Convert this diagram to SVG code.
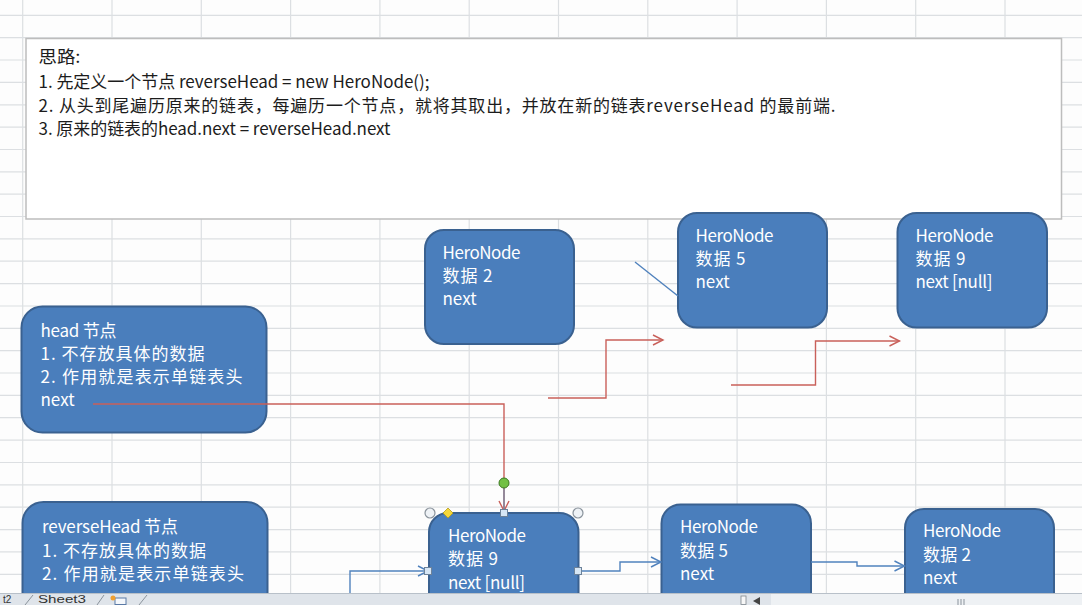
<svg xmlns="http://www.w3.org/2000/svg" width="1082" height="605" viewBox="0 0 1082 605">
<defs>
<style>
.grid line{stroke:#dcdfe2;stroke-width:1.2}
.node rect{fill:#4a7ebc;stroke:#3a6190;stroke-width:2}
.nt{font-family:"Noto Sans CJK SC","Noto Sans",sans-serif;font-size:17px;fill:#ffffff}
.bt{font-family:"Noto Sans CJK SC","Noto Sans",sans-serif;font-size:17px;fill:#1c1c1c}
.red{fill:none;stroke:#c9605a;stroke-width:1.4}
.blue{fill:none;stroke:#5082bd;stroke-width:1.4}
.hc{fill:#eef2f6;stroke:#8a939c;stroke-width:1.2}
.hs{fill:#d6e6f5;stroke:#6d8299;stroke-width:1}
.tab{font-family:"Liberation Sans",sans-serif;font-size:10px;fill:#333}
</style>
<marker id="ar" markerUnits="userSpaceOnUse" markerWidth="14" markerHeight="14" refX="11" refY="6" orient="auto">
<path d="M1,1 L11,6 L1,11" fill="none" stroke="#c9605a" stroke-width="1.4"/>
</marker>
<marker id="ab" markerUnits="userSpaceOnUse" markerWidth="14" markerHeight="14" refX="11" refY="6" orient="auto">
<path d="M1,1 L11,6 L1,11" fill="none" stroke="#5082bd" stroke-width="1.4"/>
</marker>
</defs>
<rect width="1082" height="605" fill="#fdfdfd"/>
<g class="grid">
<line x1="22.7" y1="0" x2="22.7" y2="605"/><line x1="112" y1="0" x2="112" y2="605"/><line x1="201.3" y1="0" x2="201.3" y2="605"/><line x1="290.6" y1="0" x2="290.6" y2="605"/><line x1="379.9" y1="0" x2="379.9" y2="605"/><line x1="469.2" y1="0" x2="469.2" y2="605"/><line x1="558.5" y1="0" x2="558.5" y2="605"/><line x1="647.8" y1="0" x2="647.8" y2="605"/><line x1="737.1" y1="0" x2="737.1" y2="605"/><line x1="826.4" y1="0" x2="826.4" y2="605"/><line x1="915.7" y1="0" x2="915.7" y2="605"/><line x1="1005" y1="0" x2="1005" y2="605"/>
<line x1="0" y1="15.3" x2="1082" y2="15.3"/><line x1="0" y1="37.7" x2="1082" y2="37.7"/><line x1="0" y1="60" x2="1082" y2="60"/><line x1="0" y1="82.4" x2="1082" y2="82.4"/><line x1="0" y1="104.8" x2="1082" y2="104.8"/><line x1="0" y1="127.1" x2="1082" y2="127.1"/><line x1="0" y1="149.5" x2="1082" y2="149.5"/><line x1="0" y1="171.8" x2="1082" y2="171.8"/><line x1="0" y1="194.2" x2="1082" y2="194.2"/><line x1="0" y1="216.5" x2="1082" y2="216.5"/><line x1="0" y1="238.9" x2="1082" y2="238.9"/><line x1="0" y1="261.2" x2="1082" y2="261.2"/><line x1="0" y1="283.6" x2="1082" y2="283.6"/><line x1="0" y1="306" x2="1082" y2="306"/><line x1="0" y1="328.3" x2="1082" y2="328.3"/><line x1="0" y1="350.7" x2="1082" y2="350.7"/><line x1="0" y1="373" x2="1082" y2="373"/><line x1="0" y1="395.4" x2="1082" y2="395.4"/><line x1="0" y1="417.7" x2="1082" y2="417.7"/><line x1="0" y1="440.1" x2="1082" y2="440.1"/><line x1="0" y1="462.5" x2="1082" y2="462.5"/><line x1="0" y1="484.8" x2="1082" y2="484.8"/><line x1="0" y1="507.2" x2="1082" y2="507.2"/><line x1="0" y1="529.6" x2="1082" y2="529.6"/><line x1="0" y1="551.9" x2="1082" y2="551.9"/><line x1="0" y1="574.3" x2="1082" y2="574.3"/>
</g>
<g id="idea">
<rect x="26" y="38.5" width="1035.5" height="180.5" fill="#ffffff" stroke="#bdbdbd" stroke-width="1.5"/>
<text class="bt" x="38.5" y="63" textLength="42" lengthAdjust="spacingAndGlyphs">思路:</text>
<text class="bt" x="38.5" y="88" textLength="391" lengthAdjust="spacing">1. 先定义一个节点 reverseHead = new HeroNode();</text>
<text class="bt" x="38.5" y="111.5" textLength="797" lengthAdjust="spacing">2. 从头到尾遍历原来的链表，每遍历一个节点，就将其取出，并放在新的链表reverseHead 的最前端.</text>
<text class="bt" x="38.5" y="135" textLength="352" lengthAdjust="spacing">3. 原来的链表的head.next = reverseHead.next</text>
</g>
<g id="head" class="node">
<rect x="21.5" y="306.5" width="245" height="126" rx="21"/>
<text class="nt" x="40.5" y="337" textLength="76" lengthAdjust="spacing">head 节点</text>
<text class="nt" x="40.5" y="360" textLength="164" lengthAdjust="spacing">1. 不存放具体的数据</text>
<text class="nt" x="40.5" y="383" textLength="202" lengthAdjust="spacing">2. 作用就是表示单链表头</text>
<text class="nt" x="40.5" y="406">next</text>
</g>
<g id="top-node2" class="node">
<rect x="425" y="230" width="149" height="114" rx="19"/>
<text class="nt" x="442.5" y="259" textLength="78" lengthAdjust="spacing">HeroNode</text>
<text class="nt" x="442.5" y="282" textLength="50" lengthAdjust="spacing">数据 2</text>
<text class="nt" x="442.5" y="305">next</text>
</g>
<g id="top-node5" class="node">
<rect x="678" y="213" width="149" height="114.5" rx="19"/>
<text class="nt" x="695.5" y="241.5" textLength="78" lengthAdjust="spacing">HeroNode</text>
<text class="nt" x="695.5" y="264.5" textLength="50" lengthAdjust="spacing">数据 5</text>
<text class="nt" x="695.5" y="287.5">next</text>
</g>
<g id="top-node9" class="node">
<rect x="897.5" y="213" width="149.5" height="114.5" rx="19"/>
<text class="nt" x="915.5" y="241.5" textLength="78" lengthAdjust="spacing">HeroNode</text>
<text class="nt" x="915.5" y="264.5" textLength="50" lengthAdjust="spacing">数据 9</text>
<text class="nt" x="915.5" y="287.5" textLength="77" lengthAdjust="spacing">next [null]</text>
</g>
<g id="reverse-head" class="node">
<rect x="22.5" y="502" width="245" height="130" rx="21"/>
<text class="nt" x="42" y="533" textLength="136" lengthAdjust="spacing">reverseHead 节点</text>
<text class="nt" x="42" y="556.5" textLength="164" lengthAdjust="spacing">1. 不存放具体的数据</text>
<text class="nt" x="42" y="580" textLength="202" lengthAdjust="spacing">2. 作用就是表示单链表头</text>
</g>
<g id="bottom-node9" class="node">
<rect x="429" y="513" width="149.5" height="120" rx="19"/>
<text class="nt" x="448" y="541.5" textLength="78" lengthAdjust="spacing">HeroNode</text>
<text class="nt" x="448" y="565" textLength="50" lengthAdjust="spacing">数据 9</text>
<text class="nt" x="448" y="588.5" textLength="77" lengthAdjust="spacing">next [null]</text>
</g>
<g id="bottom-node5" class="node">
<rect x="661.5" y="504.5" width="149.5" height="120" rx="19"/>
<text class="nt" x="680" y="533" textLength="78" lengthAdjust="spacing">HeroNode</text>
<text class="nt" x="680" y="557" textLength="48" lengthAdjust="spacing">数据 5</text>
<text class="nt" x="680" y="580">next</text>
</g>
<g id="bottom-node2" class="node">
<rect x="905" y="509" width="149" height="120" rx="19"/>
<text class="nt" x="923" y="537" textLength="78" lengthAdjust="spacing">HeroNode</text>
<text class="nt" x="923" y="561" textLength="48" lengthAdjust="spacing">数据 2</text>
<text class="nt" x="923" y="584">next</text>
</g>
<g id="connectors">
<path class="red" d="M93,404 H504 V511" marker-end="url(#ar)"/>
<path class="red" d="M548,398 H606 V340 H663" marker-end="url(#ar)"/>
<path class="red" d="M731,385 H815.5 V341 H899.5" marker-end="url(#ar)"/>
<path class="blue" d="M635,262 L678,296"/>
<path class="blue" d="M350,605 V571 H428" marker-end="url(#ab)"/>
<path class="blue" d="M579,571 H620 V562 H661" marker-end="url(#ab)"/>
<path class="blue" d="M811,562 H857 V566 H904.5" marker-end="url(#ab)"/>
</g>
<g id="selection">
<line x1="504" y1="488" x2="504" y2="510" stroke="#7088a3" stroke-width="1.3"/>
<circle cx="504" cy="483" r="5" fill="#72c045" stroke="#3d7a22" stroke-width="1"/>
<circle class="hc" cx="430" cy="513" r="5"/>
<circle class="hc" cx="578" cy="513" r="5"/>
<rect class="hs" x="500.5" y="509.5" width="7" height="7"/>
<rect class="hs" x="424.5" y="567.5" width="7" height="7"/>
<rect class="hs" x="574.5" y="567.5" width="7" height="7"/>
<path d="M448,508 L453,513 L448,518 L443,513 Z" fill="#f5d73a" stroke="#b39a1c" stroke-width="0.8"/>
</g>
<g id="sheet-bar">
<rect x="0" y="593" width="1082" height="12" fill="#dfe4ea"/>
<rect x="771" y="594" width="311" height="11" fill="#eef1f4"/>
<line x1="0" y1="593.5" x2="1082" y2="593.5" stroke="#b8c0c9" stroke-width="1"/>
<text class="tab" x="3" y="602.5">t2</text>
<line x1="25" y1="605" x2="33" y2="595" stroke="#8a939c" stroke-width="1"/>
<text class="tab" x="38" y="602.5" textLength="48" lengthAdjust="spacingAndGlyphs">Sheet3</text>
<line x1="97" y1="605" x2="104" y2="595" stroke="#8a939c" stroke-width="1"/>
<rect x="115" y="598" width="11" height="6.5" fill="#f4f7fb" stroke="#5b7aa6" stroke-width="1"/>
<circle cx="113" cy="598" r="2.5" fill="#f0a030"/>
<line x1="139" y1="605" x2="147" y2="595" stroke="#8a939c" stroke-width="1"/>
<rect x="741" y="596" width="5" height="8.5" fill="#f7f7f7" stroke="#7d858d" stroke-width="0.8"/>
<path d="M753,601 L760,597 L760,605 Z" fill="#444"/>
<line x1="958" y1="599" x2="958" y2="605" stroke="#8a939c"/><line x1="961" y1="599" x2="961" y2="605" stroke="#8a939c"/><line x1="964" y1="599" x2="964" y2="605" stroke="#8a939c"/>
</g>
</svg>
